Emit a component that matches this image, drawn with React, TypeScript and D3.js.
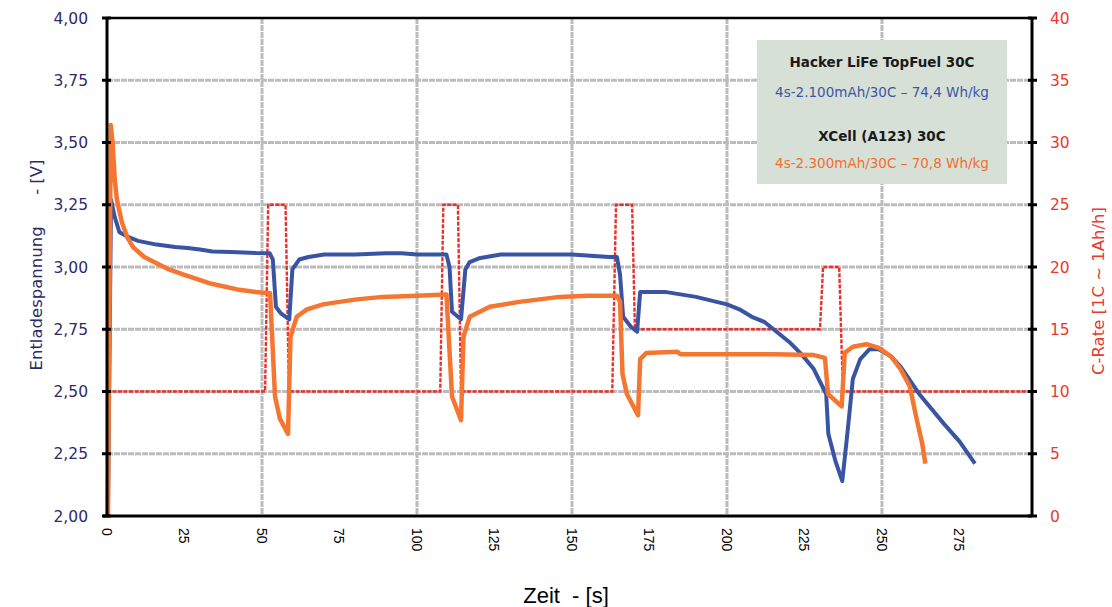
import React from 'react';
import * as d3 from 'd3';

// [time s, voltage V]
const hackerSeries: [number, number][] = [
  [0.3, 2.0], [1.3, 3.27], [2.5, 3.2], [4, 3.14], [7, 3.12], [10, 3.105], [16, 3.09], [22, 3.08],
  [26, 3.076], [30, 3.07], [34, 3.062], [40, 3.06], [48, 3.056], [52.5, 3.055], [53.5, 3.03],
  [54.5, 2.84], [56, 2.815], [58.8, 2.79], [59.8, 2.99], [62, 3.03], [65, 3.04], [70, 3.05],
  [80, 3.05], [90, 3.055], [95, 3.055], [100, 3.05], [109.5, 3.05], [110.5, 3.0], [111.3, 2.82],
  [114.2, 2.79], [115.6, 2.99], [117, 3.02], [120, 3.035], [127, 3.05], [140, 3.05], [150, 3.05],
  [156, 3.045], [162, 3.04], [164.5, 3.04], [165.5, 2.97], [166.5, 2.8], [169, 2.76], [171, 2.74],
  [172, 2.9], [175, 2.9], [180, 2.9], [185, 2.89], [190, 2.88], [195, 2.865], [200, 2.85],
  [204, 2.83], [208, 2.8], [212, 2.78], [216, 2.74], [220, 2.7], [224, 2.65], [228, 2.59],
  [232, 2.49], [232.7, 2.33], [235, 2.22], [237.2, 2.14], [239, 2.35], [240.6, 2.55], [243, 2.63],
  [246, 2.67], [249, 2.67], [253, 2.64], [256, 2.6], [262, 2.49], [270, 2.37], [275, 2.3], [280, 2.21],
];

const xcellSeries: [number, number][] = [
  [0.3, 2.0], [1.2, 3.57], [1.8, 3.5], [2.5, 3.35], [3.2, 3.27], [4.8, 3.18], [6.5, 3.12],
  [8.4, 3.08], [12, 3.04], [16, 3.015], [20, 2.99], [24.5, 2.97], [33, 2.935], [42, 2.91],
  [48, 2.9], [52.6, 2.895], [54.2, 2.48], [55.8, 2.39], [58.4, 2.33], [59.2, 2.72], [61.2, 2.8],
  [64.5, 2.83], [69.7, 2.85], [75, 2.86], [80.6, 2.87], [89, 2.88], [100, 2.885], [109.5, 2.89],
  [111.3, 2.48], [114.2, 2.385], [115, 2.72], [117, 2.8], [123.5, 2.84], [133, 2.86], [146, 2.88],
  [155, 2.885], [164.5, 2.885], [165.5, 2.86], [166.3, 2.57], [167.7, 2.49], [171.3, 2.405],
  [172, 2.63], [174, 2.655], [184, 2.66], [185, 2.65], [200, 2.65], [215, 2.65], [227.7, 2.647],
  [231.6, 2.635], [232.6, 2.49], [237, 2.44], [238, 2.655], [240.6, 2.68], [245, 2.69],
  [249, 2.675], [253, 2.64], [256, 2.59], [259, 2.52], [261, 2.4], [263, 2.29], [264, 2.21],
];

// [time s, C-rate]
const crateSeries: [number, number][] = [
  [0, 10], [51, 10], [52, 25], [57.6, 25], [58.7, 10], [107.5, 10], [108.5, 25], [113.2, 25],
  [114.2, 10], [163, 10], [164.2, 25], [169.4, 25], [170.3, 15], [230, 15], [231, 20],
  [236.2, 20], [237.4, 10], [298.4, 10],
];

const timeTicks = [0, 25, 50, 75, 100, 125, 150, 175, 200, 225, 250, 275];
const timeGrid = [50, 100, 150, 200, 250];
const voltTicks = [2.0, 2.25, 2.5, 2.75, 3.0, 3.25, 3.5, 3.75, 4.0];
const crateTicks = [0, 5, 10, 15, 20, 25, 30, 35, 40];

const legendLines = [
  { text: 'Hacker LiFe TopFuel 30C', color: '#1a1a1a', bold: true },
  { text: '4s-2.100mAh/30C – 74,4 Wh/kg', color: '#3d55a5', bold: false },
  { text: 'XCell (A123) 30C', color: '#1a1a1a', bold: true },
  { text: '4s-2.300mAh/30C – 70,8 Wh/kg', color: '#f26f2b', bold: false },
];

const font = 'DejaVu Sans, sans-serif';

export default function App() {
  const left = 107, right = 1032, top = 18, bottom = 516;

  const x = d3.scaleLinear().domain([0, 298.4]).range([left, right]);
  const yV = d3.scaleLinear().domain([2, 4]).range([bottom, top]);
  const yC = d3.scaleLinear().domain([0, 40]).range([bottom, top]);

  const voltLine = d3.line<[number, number]>().x(d => x(d[0])).y(d => yV(d[1]));
  const crateLine = d3.line<[number, number]>().x(d => x(d[0])).y(d => yC(d[1]));

  const fmt = (v: number) => v.toFixed(2).replace('.', ',');

  return (
    <svg width={1112} height={607} style={{ position: 'fixed', left: 0, top: 0, background: '#fff' }}>
      {/* grid */}
      {voltTicks.slice(1, -1).map(v => (
        <line key={'h' + v} x1={left} x2={right} y1={yV(v)} y2={yV(v)}
          stroke="#bcbcbc" strokeWidth={3} strokeDasharray="6 1" />
      ))}
      {timeGrid.map(t => (
        <line key={'v' + t} x1={x(t)} x2={x(t)} y1={top} y2={bottom}
          stroke="#bcbcbc" strokeWidth={3} strokeDasharray="6 1" />
      ))}

      {/* legend box */}
      <rect x={757} y={40} width={250} height={144} fill="#d6e0d7" />
      {legendLines.map((l, i) => (
        <text key={i} x={882} y={[67, 97, 141, 168][i]} textAnchor="middle" fontFamily={font}
          fontSize={13.5} fontWeight={l.bold ? 'bold' : 'normal'} fill={l.color}>{l.text}</text>
      ))}

      {/* series */}
      <path d={crateLine(crateSeries) || ''} fill="none" stroke="#e8302c" strokeWidth={2.4} strokeDasharray="4 1.5" />
      <path d={voltLine(hackerSeries) || ''} fill="none" stroke="#3a54a4" strokeWidth={4} strokeLinejoin="round" />
      <path d={voltLine(xcellSeries) || ''} fill="none" stroke="#f47630" strokeWidth={4.5} strokeLinejoin="round" />

      {/* frame */}
      <line x1={left} x2={right} y1={top} y2={top} stroke="#000" strokeWidth={2.5} />
      <line x1={left - 4} x2={right} y1={bottom} y2={bottom} stroke="#000" strokeWidth={3} />
      <line x1={left} x2={left} y1={top} y2={bottom} stroke="#000" strokeWidth={3} />
      <line x1={right} x2={right} y1={top} y2={bottom} stroke="#000" strokeWidth={3} />

      {/* left axis */}
      {voltTicks.map(v => (
        <g key={'lv' + v}>
          <line x1={left - 5} x2={left + 4} y1={yV(v)} y2={yV(v)} stroke="#000" strokeWidth={3} />
          <text x={88} y={yV(v) + 5.5} textAnchor="end" fontFamily={font} fontSize={15.5} fill="#2d2a6b">{fmt(v)}</text>
        </g>
      ))}
      <text transform="translate(42,265) rotate(-90)" textAnchor="middle" fontFamily={font} fontSize={16.5}
        fill="#2d2a6b" style={{ whiteSpace: 'pre' }}>{'Entladespannung      - [V]'}</text>

      {/* right axis */}
      {crateTicks.map(c => (
        <g key={'rc' + c}>
          <line x1={right - 4} x2={right + 5} y1={yC(c)} y2={yC(c)} stroke="#000" strokeWidth={3} />
          <text x={1050} y={yC(c) + 5.5} textAnchor="start" fontFamily={font} fontSize={15.5} fill="#e8392f">{c}</text>
        </g>
      ))}
      <text transform="translate(1104,291) rotate(-90)" textAnchor="middle" fontFamily={font} fontSize={16.5}
        fill="#e8392f">C-Rate [1C ~ 1Ah/h]</text>

      {/* bottom axis */}
      {timeTicks.map(t => (
        <text key={'bt' + t} transform={`translate(${x(t) - 5},528) rotate(90)`} textAnchor="start"
          fontFamily="Liberation Sans, Arial, sans-serif" fontSize={14} fill="#000">{t}</text>
      ))}
      <text x={566} y={603} textAnchor="middle" fontFamily="Liberation Sans, Arial, sans-serif" fontSize={22}
        fill="#000" style={{ whiteSpace: 'pre' }}>{'Zeit  - [s]'}</text>
    </svg>
  );
}
